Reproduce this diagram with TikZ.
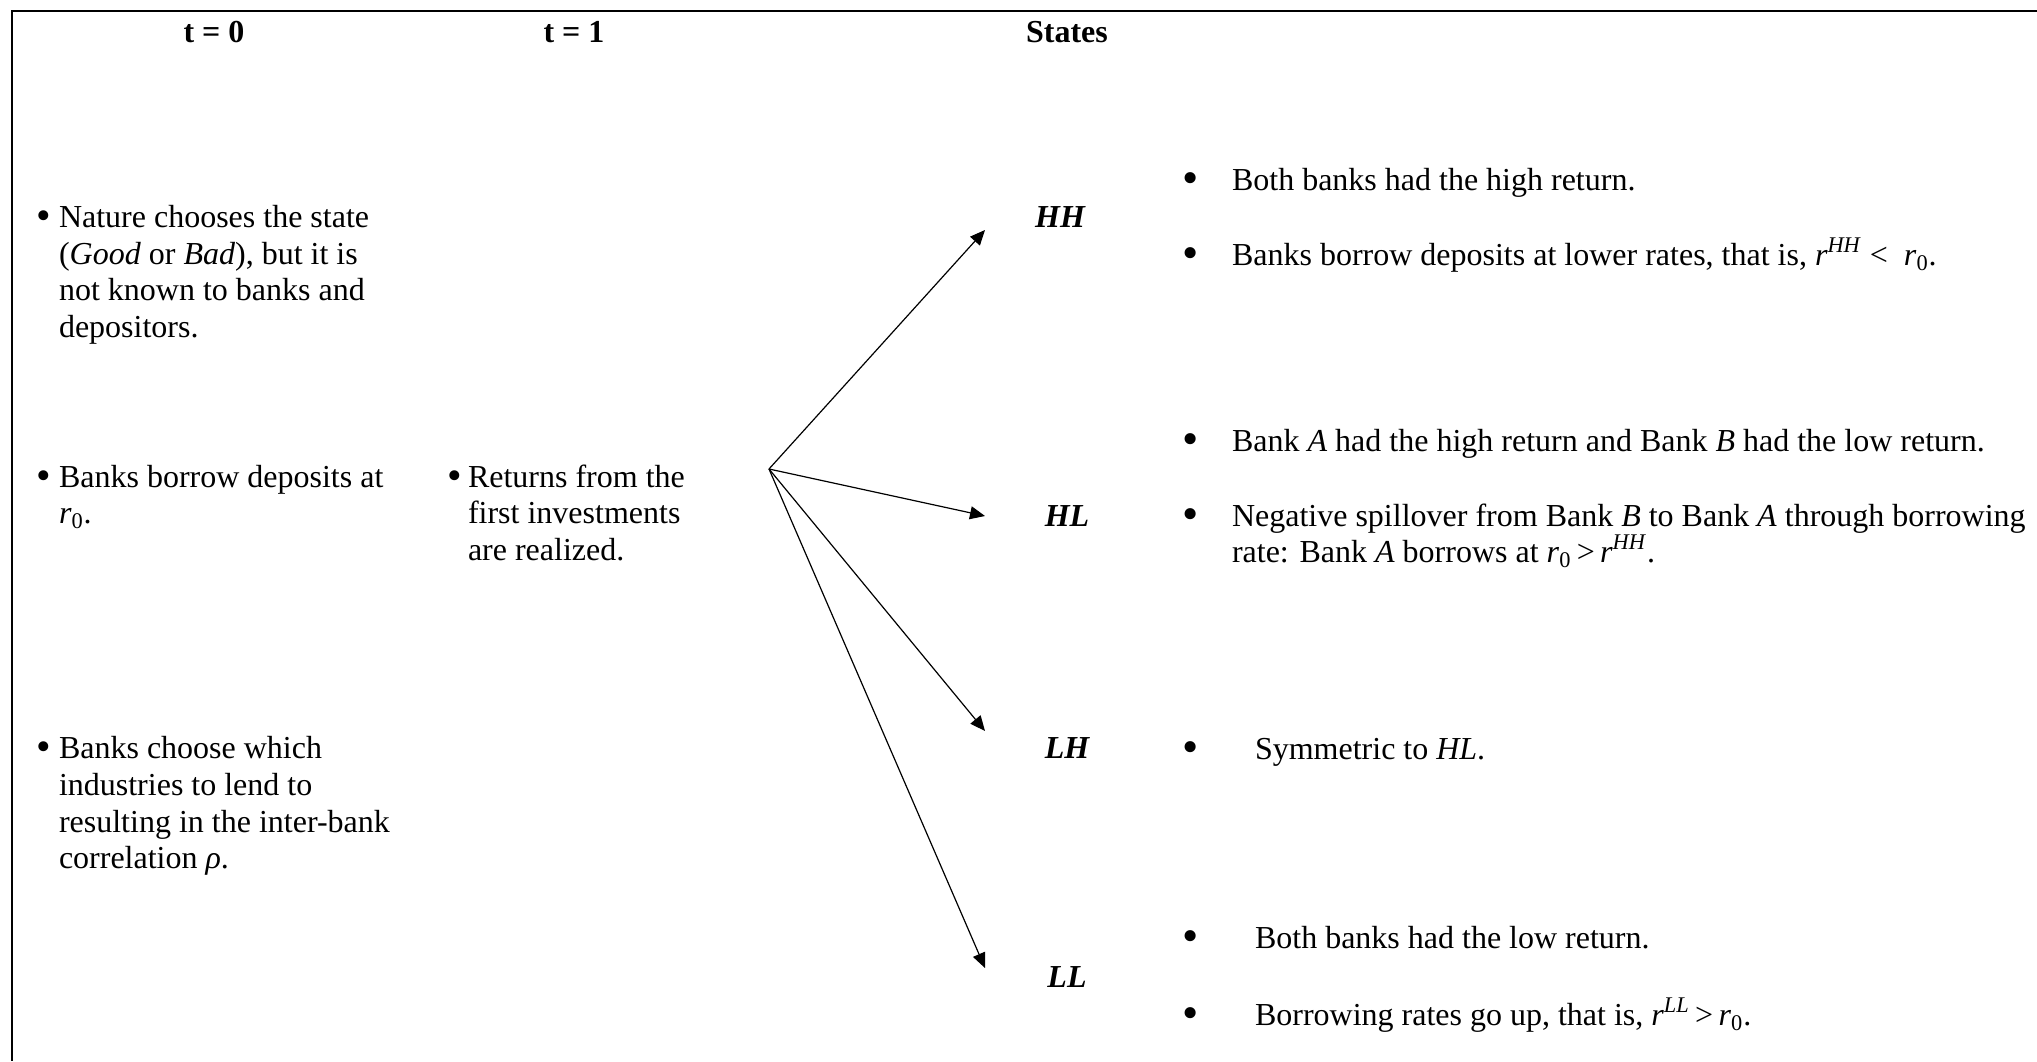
\documentclass[tikz,border=0pt]{standalone}
\usepackage{fontspec}
\setmainfont{Liberation Serif}
\usetikzlibrary{arrows.meta}
\newcommand{\bigbul}{\raisebox{-0.07em}{\scalebox{1.3}{\textbullet}}}
\newcommand{\hugebul}{\raisebox{-0.1em}{\scalebox{1.45}{\textbullet}}}
\begin{document}
\begin{tikzpicture}[x=0.5pt,y=-0.5pt,
  every node/.style={inner sep=0pt, outer sep=0pt, font=\fontsize{16}{18.3}\selectfont},
  txt/.style={anchor=base west},
  bul/.style={anchor=base},
  hdr/.style={font=\fontsize{16}{18.3}\selectfont\bfseries},
  st/.style={font=\fontsize{16}{18.3}\selectfont\bfseries\itshape},
  arr/.style={-{Triangle[length=7.5pt,width=6.5pt]}, line width=0.6pt},
  frame/.style={line width=0.9pt}]
\useasboundingbox (0,0) rectangle (2037,1061);
% frame
\coordinate (fr1) at (2037,11);
\coordinate (fr2) at (12,11);
\coordinate (fr3) at (12,1061);
\draw[frame] (fr1) -- (fr2) -- (fr3);
% headers
\node[hdr] (h0) at (214,32) {t = 0};
\node[hdr] (h1) at (574,32) {t = 1};
\node[hdr] (hs) at (1067,32) {States};
% left column
\node[bul] (b1) at (44,227) {\bigbul};
\node[txt] (l1a) at (59,227) {Nature chooses the state};
\node[txt] (l1b) at (59,264) {(\textit{Good} or \textit{Bad}), but it is};
\node[txt] (l1c) at (59,300) {not known to banks and};
\node[txt] (l1d) at (59,337) {depositors.};
\node[bul] (b2) at (44,487) {\bigbul};
\node[txt] (l2a) at (59,487) {Banks borrow deposits at};
\node[txt] (l2b) at (59,523) {\textit{r}\textsubscript{0}.};
\node[bul] (b3) at (44,758) {\bigbul};
\node[txt] (l3a) at (59,758) {Banks choose which};
\node[txt] (l3b) at (59,795) {industries to lend to};
\node[txt] (l3c) at (59,832) {resulting in the inter-bank};
\node[txt] (l3d) at (59,868) {correlation \textit{ρ}.};
% middle column
\node[bul] (m0) at (455,487) {\bigbul};
\node[txt] (m1) at (468,487) {Returns from the};
\node[txt] (m2) at (468,523) {first investments};
\node[txt] (m3) at (468,560) {are realized.};
% arrows
\coordinate (o) at (769,469);
\coordinate (tHH) at (985,230);
\coordinate (tHL) at (985,516);
\coordinate (tLH) at (985,731);
\coordinate (tLL) at (985,968);
\draw[arr] (o) -- (tHH);
\draw[arr] (o) -- (tHL);
\draw[arr] (o) -- (tLH);
\draw[arr] (o) -- (tLL);
% state labels
\node[st] (HH) at (1060,217) {HH};
\node[st] (HL) at (1067,516) {HL};
\node[st] (LH) at (1067,748) {LH};
\node[st] (LL) at (1067,977) {LL};
% right column
\node[bul] (rb1) at (1191,190) {\hugebul};
\node[txt] (r1) at (1232,190) {Both banks had the high return.};
\node[bul] (rb2) at (1191,265) {\hugebul};
\node[txt] (r2) at (1232,265) {Banks borrow deposits at lower rates, that is, \textit{r}\textsuperscript{\textit{HH}}~< ~\textit{r}\textsubscript{0}.};
\node[bul] (rb3) at (1191,451) {\hugebul};
\node[txt] (r3) at (1232,451) {Bank \textit{A} had the high return and Bank \textit{B} had the low return.};
\node[bul] (rb4) at (1191,526) {\hugebul};
\node[txt] (r4a) at (1232,526) {Negative spillover from Bank \textit{B} to Bank \textit{A} through borrowing};
\node[txt] (r4b) at (1232,562) {rate: Bank \textit{A} borrows at \textit{r}\textsubscript{0}\,>\,\textit{r}\textsuperscript{\textit{HH}}.};
\node[bul] (rb5) at (1191,759) {\hugebul};
\node[txt] (r5) at (1255,759) {Symmetric to \textit{HL}.};
\node[bul] (rb6) at (1191,948) {\hugebul};
\node[txt] (r6) at (1255,948) {Both banks had the low return.};
\node[bul] (rb7) at (1191,1025) {\hugebul};
\node[txt] (r7) at (1255,1025) {Borrowing rates go up, that is, \textit{r}\textsuperscript{\textit{LL}}\,>\,\textit{r}\textsubscript{0}.};
\end{tikzpicture}
\end{document}
